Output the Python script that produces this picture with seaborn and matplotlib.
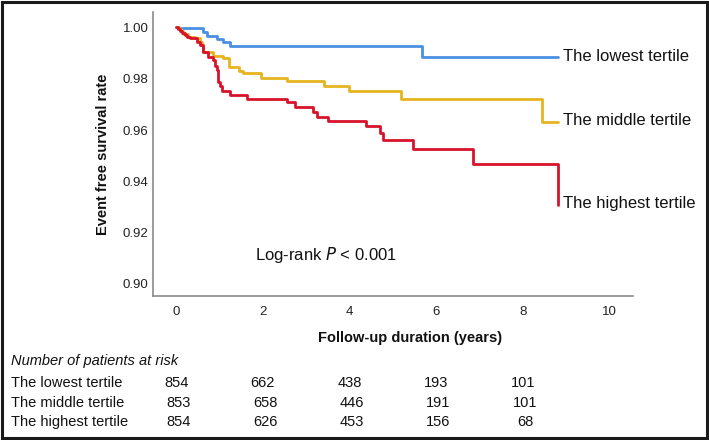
import numpy as np
import pandas as pd
import matplotlib
matplotlib.use("Agg")
import matplotlib.pyplot as plt
import matplotlib.transforms as mtransforms
from matplotlib.patches import Rectangle
import seaborn as sns

# ---- data ----
groups = ["The lowest tertile", "The middle tertile", "The highest tertile"]

t_low = [0, 0.05, 0.63, 0.71, 0.94, 1.08, 1.24, 5.68, 8.82]
s_low = [1.0, 0.9996, 0.9982, 0.9967, 0.9954, 0.9943, 0.9928, 0.9883, 0.9883]

t_mid = [0, 0.06, 0.12, 0.17, 0.28, 0.44, 0.55, 0.60, 0.63, 0.86, 1.08, 1.22, 1.45,
         1.54, 1.96, 2.56, 3.41, 3.99, 5.18, 8.43, 8.82]
s_mid = [1.0, 0.9992, 0.9984, 0.9974, 0.9963, 0.9957, 0.9944, 0.9931, 0.9905, 0.9889,
         0.9879, 0.9847, 0.9830, 0.9821, 0.9804, 0.9791, 0.9771, 0.9753, 0.9722,
         0.9632, 0.9632]

t_high = [0, 0.04, 0.09, 0.14, 0.20, 0.26, 0.32, 0.48, 0.55, 0.63, 0.74, 0.86, 0.90,
          0.94, 0.97, 1.01, 1.05, 1.24, 1.63, 2.55, 2.74, 3.16, 3.24, 3.51, 4.39,
          4.70, 4.78, 5.46, 6.84, 8.80]
s_high = [1.0, 0.9992, 0.9985, 0.9977, 0.9970, 0.9963, 0.9957, 0.9944, 0.9931, 0.9905,
          0.9885, 0.9873, 0.9850, 0.9834, 0.9788, 0.9770, 0.9752, 0.9738, 0.9722,
          0.9710, 0.9691, 0.9671, 0.9652, 0.9636, 0.9616, 0.9587, 0.9561, 0.9526,
          0.9467, 0.9308]

risk_times = [0, 2, 4, 6, 8]
risk_low = [854, 662, 438, 193, 101]
risk_mid = [853, 658, 446, 191, 101]
risk_high = [854, 626, 453, 156, 68]

x_ticks = [0, 2, 4, 6, 8, 10]
y_ticks = [0.90, 0.92, 0.94, 0.96, 0.98, 1.00]

colors = ["#4A90E2", "#E6B41E", "#D7132B"]

# ---- build frame ----
df = pd.concat([
    pd.DataFrame({"time": t_low, "surv": s_low, "group": groups[0]}),
    pd.DataFrame({"time": t_mid, "surv": s_mid, "group": groups[1]}),
    pd.DataFrame({"time": t_high, "surv": s_high, "group": groups[2]}),
], ignore_index=True)

sns.set_theme(style="white")
plt.rcParams["font.family"] = ["Liberation Sans", "DejaVu Sans"]

W, H = 709, 440
fig = plt.figure(figsize=(W / 100, H / 100), dpi=100)
ax = fig.add_axes([152.7 / W, 1 - 296 / H, (633 - 152.7) / W, (296 - 12) / H])

sns.lineplot(data=df, x="time", y="surv", hue="group", hue_order=groups,
             palette=colors, estimator=None, sort=False, drawstyle="steps-post",
             linewidth=2.0, legend=False, ax=ax)

ax.set_xlim(-0.54, 10.54)
ax.set_ylim(0.8953, 1.006)
ax.set_xticks(x_ticks)
ax.set_xticklabels([str(v) for v in x_ticks])
ax.set_yticks(y_ticks)
ax.set_yticklabels([f"{v:.2f}" for v in y_ticks])
ax.tick_params(axis="both", length=0, labelsize=9.5, colors="#222222")
ax.tick_params(axis="x", pad=7)
ax.tick_params(axis="y", pad=3)
for side in ["top", "right"]:
    ax.spines[side].set_visible(False)
for side in ["left", "bottom"]:
    ax.spines[side].set_color("#8a8a8a")
    ax.spines[side].set_linewidth(1.2)

ax.set_xlabel("Follow-up duration (years)", fontsize=10.5, fontweight="bold", color="#111111")
ax.xaxis.set_label_coords((410 - 152.7) / (633 - 152.7), (296 - 338) / (296 - 12))
ax.xaxis.label.set_va("center")
ax.set_ylabel("Event free survival rate", fontsize=10.5, fontweight="bold", color="#111111")
ax.yaxis.set_label_coords((102.7 - 152.7) / (633 - 152.7), (296 - 154) / (296 - 12))
ax.yaxis.label.set_va("center")
ax.yaxis.label.set_ha("center")

# curve end labels
ends = [(t_low[-1], s_low[-1]), (t_mid[-1], s_mid[-1]), (t_high[-1], s_high[-1])]
for g, (tx, sy) in zip(groups, ends):
    ax.annotate(g, xy=(tx, sy), xytext=(5, 1), textcoords="offset pixels",
                ha="left", va="center", fontsize=12, color="#111111",
                annotation_clip=False)

# log-rank text
ax.text(1.82, 0.9113, "Log-rank $\\it{P}$ < 0.001", ha="left", va="center",
        fontsize=12, color="#111111")

# number at risk table
fig.text(11 / W, 1 - 361 / H, "Number of patients at risk", style="italic",
         fontsize=10.5, ha="left", va="center", color="#111111")
blend = mtransforms.blended_transform_factory(ax.transData, fig.transFigure)
row_y = [383, 402.5, 421.5]
row_off = [0.0, 0.05, 0.05]
for g, vals, py, off in zip(groups, [risk_low, risk_mid, risk_high], row_y, row_off):
    fig.text(11 / W, 1 - py / H, g, fontsize=10.5, ha="left", va="center", color="#111111")
    for t, v in zip(risk_times, vals):
        ax.text(t + off, 1 - py / H, str(v), transform=blend, fontsize=10.5,
                ha="center", va="center", color="#111111", clip_on=False)

# outer frame
fig.add_artist(Rectangle((1.5 / W, 2.5 / H), (W - 3.5) / W, (H - 4.5) / H,
                         transform=fig.transFigure, fill=False,
                         edgecolor="#1a1a1a", linewidth=2.2, clip_on=False))

fig.savefig("out.png", dpi=100)
